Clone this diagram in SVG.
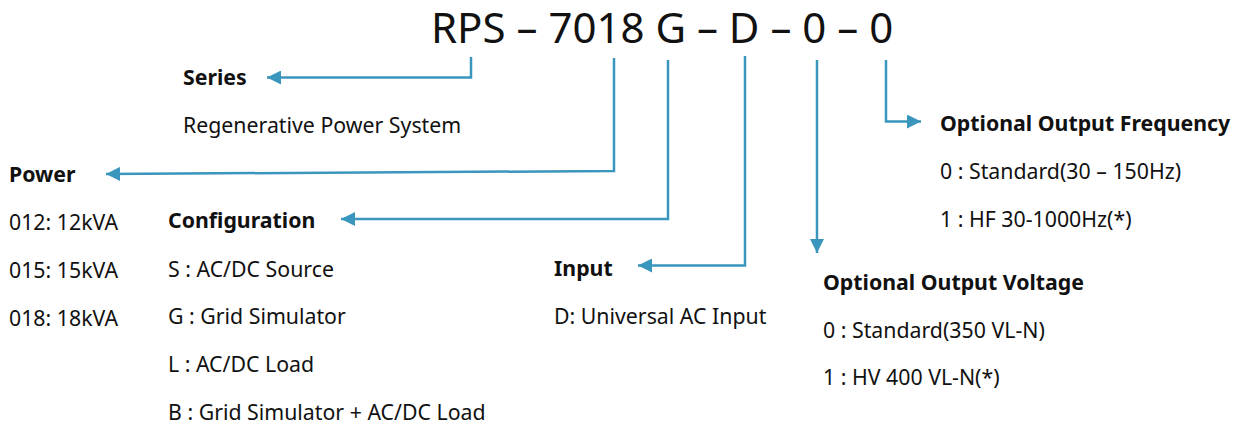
<svg xmlns="http://www.w3.org/2000/svg" width="1239" height="425" viewBox="0 0 1239 425">
<defs>
<marker id="ah" viewBox="0 0 10 10" refX="10" refY="5" markerWidth="6.4" markerHeight="5.6" markerUnits="strokeWidth" orient="auto">
<path d="M0,0 L10,5 L0,10 Z" fill="#3a96bd"/>
</marker>
</defs>
<style>
text{font-family:"Noto Sans","Open Sans",sans-serif;fill:#111;}
.t{font-size:42px;}
.h{font-size:21.3px;font-weight:bold;}
.v{font-size:21.3px;}
.c{fill:none;stroke:#3a96bd;stroke-width:2.5;marker-end:url(#ah);}
</style>
<rect width="1239" height="425" fill="#fff"/>
<g id="title"><text class="t" x="431" y="43">RPS – 7018 G – D – 0 – 0</text></g>
<g id="connectors">
<path class="c" d="M471,57 V77.5 H267"/>
<path class="c" d="M614,58 V171 L106,174"/>
<path class="c" d="M668,60 V219 H341"/>
<path class="c" d="M745,56 V265.5 H638"/>
<path class="c" d="M817,60 V253"/>
<path class="c" d="M886,60 V121.5 H921"/>
</g>
<g id="series"><text class="h" x="183" y="85">Series</text><text class="v" x="183" y="133">Regenerative Power System</text></g>
<g id="power"><text class="h" x="9" y="182">Power</text><text class="v" x="9" y="230">012: 12kVA</text><text class="v" x="9" y="278">015: 15kVA</text><text class="v" x="9" y="326">018: 18kVA</text></g>
<g id="configuration"><text class="h" x="168" y="228">Configuration</text><text class="v" x="168" y="277">S : AC/DC Source</text><text class="v" x="168" y="324">G : Grid Simulator</text><text class="v" x="168" y="372">L : AC/DC Load</text><text class="v" x="168" y="420">B : Grid Simulator + AC/DC Load</text></g>
<g id="input"><text class="h" x="554" y="276">Input</text><text class="v" x="554" y="324">D: Universal AC Input</text></g>
<g id="voltage"><text class="h" x="823" y="290">Optional Output Voltage</text><text class="v" x="823" y="338">0 : Standard(350 VL-N)</text><text class="v" x="823" y="385">1 : HV 400 VL-N(*)</text></g>
<g id="frequency"><text class="h" x="940" y="131">Optional Output Frequency</text><text class="v" x="940" y="179">0 : Standard(30 – 150Hz)</text><text class="v" x="940" y="227">1 : HF 30-1000Hz(*)</text></g>
</svg>
